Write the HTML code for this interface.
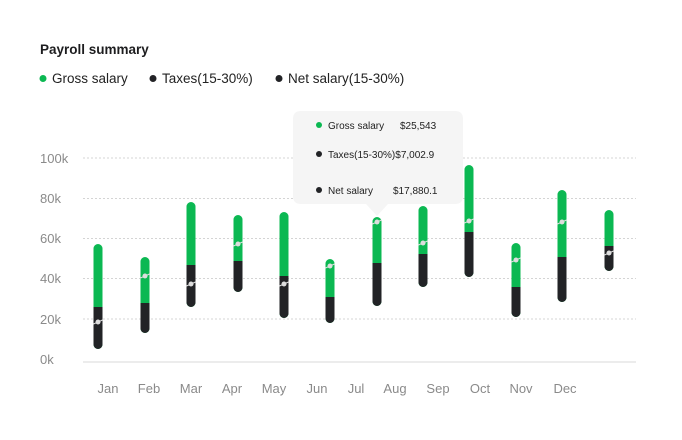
<!DOCTYPE html>
<html><head><meta charset="utf-8"><style>
body{margin:0;background:#fff;width:682px;height:435px;overflow:hidden;font-family:"Liberation Sans",sans-serif}
</style></head><body>
<svg width="682" height="435" xmlns="http://www.w3.org/2000/svg" font-family="Liberation Sans, sans-serif">
<text x="40" y="54" font-size="13.5" font-weight="bold" fill="#1d1d1f">Payroll summary</text>
<circle cx="43" cy="78.5" r="3.5" fill="#0bb852"/><text x="52" y="83" font-size="13.5" fill="#222">Gross salary</text>
<circle cx="153" cy="78.5" r="3.5" fill="#222326"/><text x="162" y="83" font-size="13.5" fill="#222">Taxes(15-30%)</text>
<circle cx="279" cy="78.5" r="3.5" fill="#222326"/><text x="288" y="83" font-size="13.5" fill="#222">Net salary(15-30%)</text>
<g stroke="#d4d4d4" stroke-dasharray="2,2" stroke-width="1">
<line x1="83" x2="636" y1="158" y2="158"/><line x1="83" x2="636" y1="198.5" y2="198.5"/>
<line x1="83" x2="636" y1="238.5" y2="238.5"/><line x1="83" x2="636" y1="278.5" y2="278.5"/>
<line x1="83" x2="636" y1="319" y2="319"/></g>
<line x1="83" x2="636" y1="362" y2="362" stroke="#d8d8d8"/>
<g font-size="13" fill="#8a8a8a">
<text x="40" y="163">100k</text><text x="40" y="203">80k</text><text x="40" y="243">60k</text>
<text x="40" y="283">40k</text><text x="40" y="324">20k</text><text x="40" y="364">0k</text></g>
<g font-size="13" fill="#8a8a8a" text-anchor="middle">
<text x="108" y="393">Jan</text><text x="149" y="393">Feb</text><text x="191" y="393">Mar</text><text x="232" y="393">Apr</text><text x="274" y="393">May</text><text x="317" y="393">Jun</text><text x="356" y="393">Jul</text><text x="395" y="393">Aug</text><text x="438" y="393">Sep</text><text x="480" y="393">Oct</text><text x="521" y="393">Nov</text><text x="565" y="393">Dec</text></g>
<g id="bars"></g>
<path d="M301 111 H455 Q463 111 463 119 V196 Q463 204 455 204 H388 L377 216 L366 204 H301 Q293 204 293 196 V119 Q293 111 301 111 Z" fill="#f5f5f5"/>
<g font-size="10" fill="#222">
<circle cx="319" cy="125" r="3" fill="#0bb852"/><text x="328" y="129">Gross salary</text><text x="400" y="129">$25,543</text>
<circle cx="319" cy="154" r="3" fill="#222326"/><text x="328" y="158">Taxes(15-30%)$7,002.9</text>
<circle cx="319" cy="190" r="3" fill="#222326"/><text x="328" y="194">Net salary</text><text x="393" y="194">$17,880.1</text>
</g>
</svg>
<script>
var d=[[98,244,307,349,322],[145,257,303,333,276],[191,202,265,307,284],[238,215,261,292,244],[284,212,276,318,284],[330,259,297,323,266],[377,217,263,306,222],[423,206,254,287,243],[469,165,232,277,221],[516,243,287,317,260],[562,190,257,302,222],[609,210,246,271,253]];
var g=document.getElementById('bars'),s='',ns='http://www.w3.org/2000/svg';
d.forEach(function(b){var x=b[0]-4.5,w=9;
s+='<rect x="'+x+'" y="'+b[1]+'" width="9" height="'+(b[3]-b[1])+'" rx="4.5" fill="#0bb852"/>';
s+='<path d="M'+x+' '+b[2]+' H'+(x+9)+' V'+(b[3]-4.5)+' A4.5 4.5 0 0 1 '+x+' '+(b[3]-4.5)+' Z" fill="#222326"/>';
s+='<line x1="'+(x)+'" x2="'+(x+9)+'" y1="'+(b[4]+2)+'" y2="'+(b[4]-2)+'" stroke="#ddd" stroke-width="1"/>';
s+='<circle cx="'+b[0]+'" cy="'+b[4]+'" r="2.5" fill="#ddd"/>';});
g.innerHTML=s;
</script>
</body></html>
